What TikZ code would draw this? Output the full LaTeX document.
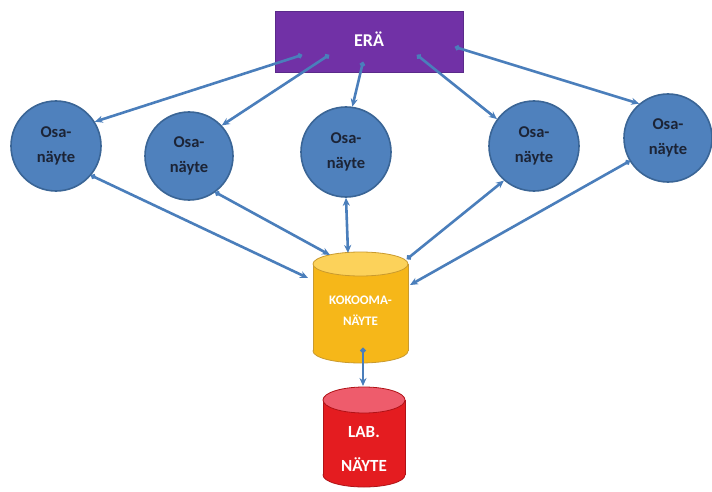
\documentclass[tikz,border=0pt]{standalone}
\usepackage{fontspec}
\setmainfont{Carlito}
\usetikzlibrary{arrows.meta}

\definecolor{eraviolet}{HTML}{7131A6}
\definecolor{eraedge}{HTML}{5A2A8A}
\definecolor{osablue}{HTML}{4F81BD}
\definecolor{osaedge}{HTML}{3A6596}
\definecolor{osatext}{HTML}{1C2436}
\definecolor{linkblue}{HTML}{4A7EBB}
\definecolor{kokbody}{HTML}{F6B719}
\definecolor{koktop}{HTML}{FCD25A}
\definecolor{kokedge}{HTML}{C99A2E}
\definecolor{labbody}{HTML}{E41C20}
\definecolor{labtop}{HTML}{EE5C6C}
\definecolor{labedge}{HTML}{B01216}

\begin{document}
\begin{tikzpicture}[x=1pt,y=-1pt,
  erabox/.style={rectangle, draw=eraedge, line width=1pt, fill=eraviolet,
    minimum width=188pt, minimum height=61pt, inner sep=0pt,
    text=white, font=\bfseries\fontsize{18}{20}\selectfont},
  osa/.style={circle, draw=osaedge, line width=1.6pt, fill=osablue,
    minimum size=#1, inner sep=0pt, align=center, text=osatext,
    font=\bfseries\fontsize{16.5}{25}\selectfont},
  link/.style={draw=linkblue, line width=2.6pt,
    {Circle[length=5pt]}-{Stealth[length=8pt,width=7pt]}},
  linkboth/.style={draw=linkblue, line width=2.6pt,
    {Stealth[length=8pt,width=7pt]}-{Stealth[length=8pt,width=7pt]}},
  cyltext/.style={text=white, font=\bfseries\fontsize{13}{15}\selectfont},
  labtext/.style={text=white, font=\bfseries\fontsize{17}{19}\selectfont},
]
\useasboundingbox[fill=white] (0,0) rectangle (712,492);

% --- the batch
\node[erabox] (era) at (369,42.5) {\raisebox{6pt}{ERÄ}};

% --- sub-samples
\node[osa=90pt] (c1) at (56,146)  {Osa-\\näyte};
\node[osa=88pt] (c2) at (189,156) {Osa-\\näyte};
\node[osa=90pt] (c3) at (346,152) {Osa-\\näyte};
\node[osa=90pt] (c4) at (534,146) {Osa-\\näyte};
\node[osa=88pt] (c5) at (668,138) {Osa-\\näyte};

% --- composite sample cylinder
\fill[kokbody, draw=kokedge, line width=0.8pt] (360.5,351) ellipse (47.5 and 12);
\fill[kokbody] (313,264) rectangle (408,351);
\draw[kokedge, line width=0.8pt] (313,264) -- (313,351) (408,264) -- (408,351);
\filldraw[fill=koktop, draw=kokedge, line width=0.8pt] (360.5,264) ellipse (47.5 and 12);
\node[cyltext] (kok1) at (360.5,300) {KOKOOMA-};
\node[cyltext] (kok2) at (360.5,320) {NÄYTE};

% --- laboratory sample cylinder
\fill[labbody, draw=labedge, line width=0.8pt] (364,475) ellipse (41 and 12);
\fill[labbody] (323,400) rectangle (405,475);
\draw[labedge, line width=0.8pt] (323,400) -- (323,475) (405,400) -- (405,475);
\filldraw[fill=labtop, draw=labedge, line width=0.8pt] (364,400) ellipse (41 and 13);
\node[labtext] (lab1) at (364,432) {LAB.};
\node[labtext] (lab2) at (364,465) {NÄYTE};

% --- connector end points on the batch and the cylinders
\coordinate (e1) at (302,55);
\coordinate (e2) at (329,55);
\coordinate (e3) at (363,62);
\coordinate (e4) at (417,55);
\coordinate (e5) at (455,47);
\coordinate (kw1) at (308,278);
\coordinate (kw2) at (330,255);
\coordinate (kn)  at (348,253);
\coordinate (ke1) at (407,259);
\coordinate (ke2) at (410,285);
\coordinate (kb)  at (363,348);
\coordinate (lt)  at (363,386);

% --- batch to sub-samples
\draw[link] (e1) -- (c1.32);
\draw[link] (e2) -- (c2.43);
\draw[link] (e3) -- (c3.82);
\draw[link] (e4) -- (c4.144);
\draw[link] (e5) -- (c5.130);

% --- sub-samples and the composite sample
\draw[link] (c1.-40) -- (kw1);
\draw[link] (c2.-54) -- (kw2);
\draw[linkboth] (c3.south) -- (kn);
\draw[link] (ke1) -- (c4.229);
\draw[link] (c5.211) -- (ke2);

% --- composite to laboratory sample
\draw[link] (kb) -- (lt);
\end{tikzpicture}
\end{document}
